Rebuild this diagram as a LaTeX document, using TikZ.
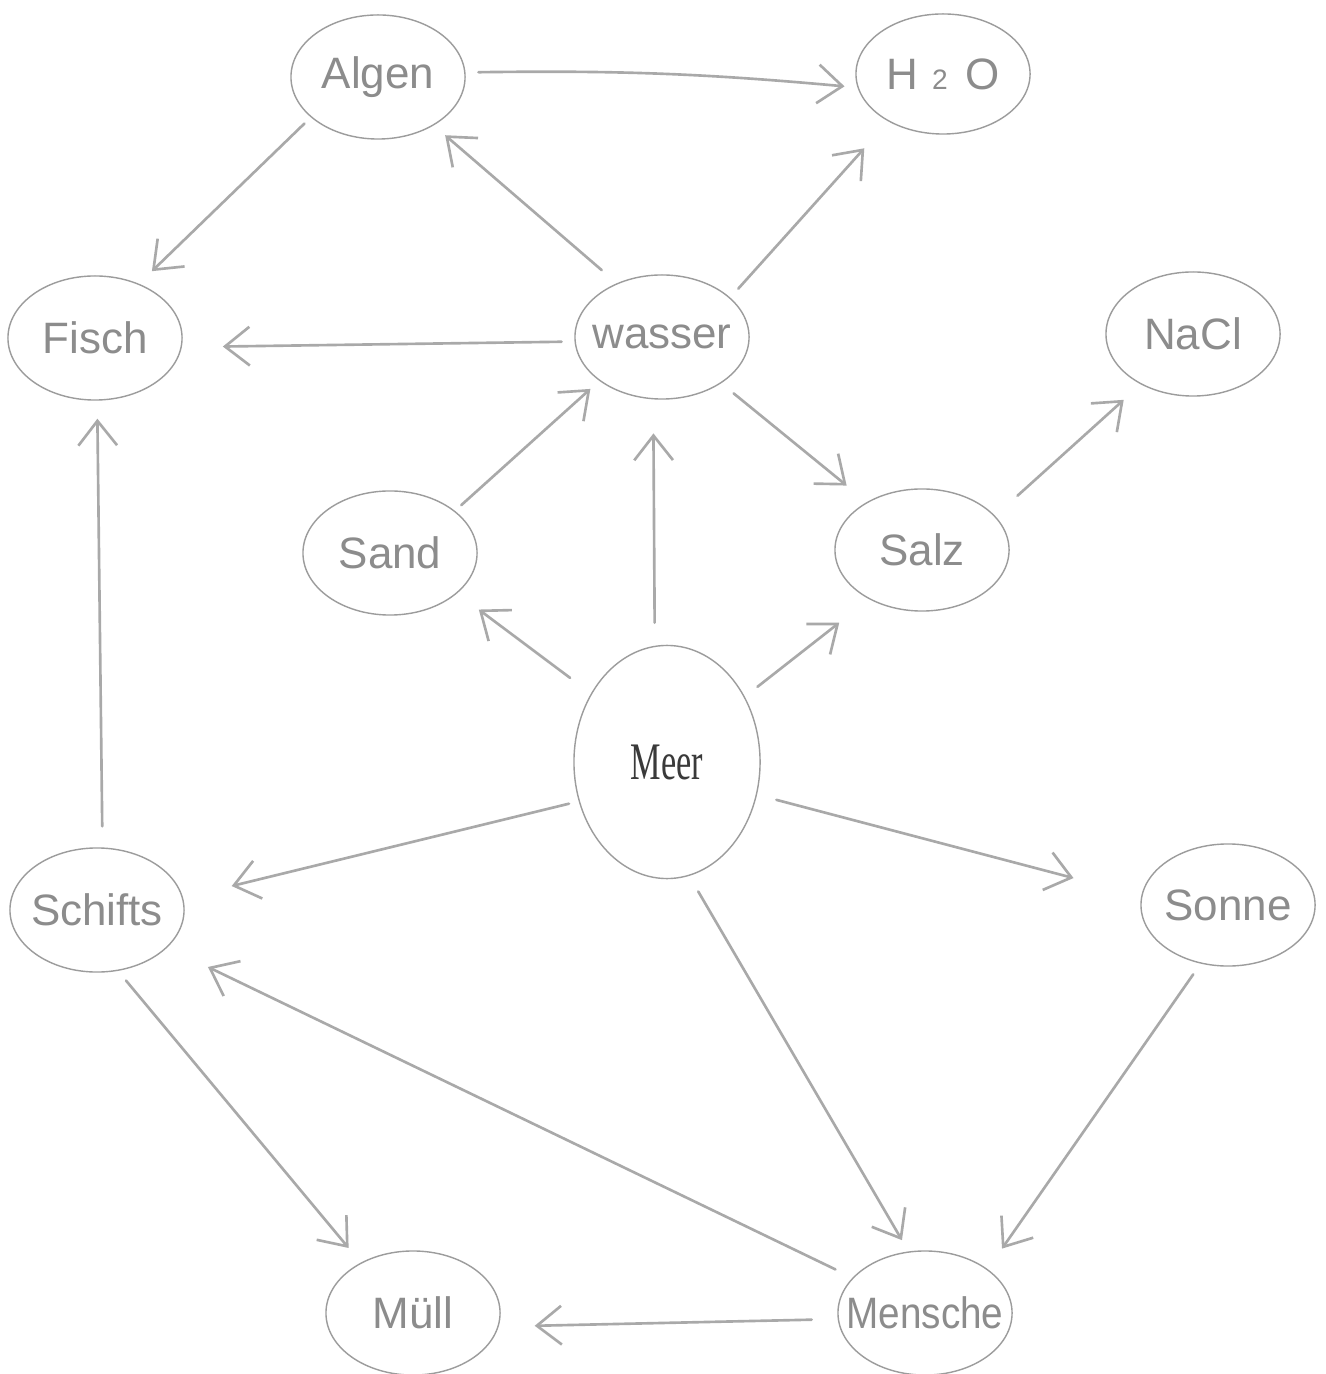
\documentclass[tikz,border=0pt]{standalone}
\usepackage{fontspec}
\setmainfont{Liberation Sans}
\newfontfamily\printfont{Liberation Serif}
\usetikzlibrary{shapes.geometric,arrows.meta}
\definecolor{pencil}{HTML}{8C8C8C}
\definecolor{rim}{HTML}{9C9C9C}
\definecolor{stroke}{HTML}{A9A9A9}
\definecolor{ink}{HTML}{3A3A3A}
% a word that does not widen its ellipse
\newcommand\word[1]{\makebox[0pt]{#1}}

\begin{document}
\begin{tikzpicture}[x=0.01cm,y=-0.01cm,
  bubble/.style={ellipse,draw=rim,line width=0.4pt,inner sep=0pt,
    minimum width=1.74cm,minimum height=1.24cm,text=pencil,
    font=\fontsize{12.5}{14}\selectfont},
  link/.style={draw=stroke,line width=0.75pt,line cap=round,line join=round,
    -{Straight Barb[length=7pt,width=11pt]}},
  gap/.style 2 args={shorten <=#1mm,shorten >=#2mm}]

  % page
  \useasboundingbox[fill=white] (0,0) rectangle (1325,1374);

  % concepts
  \node[bubble] (algen)   at (378,77)   {\word{Algen}};
  \node[bubble,minimum height=1.2cm] (hzo) at (943,74)
    {\word{H\kern4pt{\fontsize{8}{8}\selectfont 2}\kern5pt O}};
  \node[bubble] (fisch)   at (95,338)   {\word{Fisch}};
  \node[bubble] (wasser)  at (662,337)  {\word{wasser}};
  \node[bubble] (nacl)    at (1193,334) {\word{NaCl}};
  \node[bubble] (sand)    at (390,553)  {\word{Sand}};
  \node[bubble,minimum height=1.22cm] (salz) at (922,550) {\word{Salz}};
  \node[bubble,minimum width=1.86cm,minimum height=2.33cm,text=ink,
    font=\printfont\fontsize{15}{17}\selectfont] (meer) at (667,762)
    {\word{\scalebox{0.65}[1]{Meer}}};
  \node[bubble] (schifts) at (97,910)   {\word{Schifts}};
  \node[bubble,minimum height=1.22cm] (sonne) at (1228,905) {\word{Sonne}};
  \node[bubble] (muell)   at (413,1313) {\word{Müll}};
  \node[bubble] (mensche) at (925,1313) {\word{\scalebox{0.88}[1]{Mensche}}};

  % relations
  \draw[link,gap={1.3}{1.3},bend left=3] (algen.3) to (hzo.189);
  \draw[link,gap={0.9}{1.8}] (algen.211) -- (fisch.51);
  \draw[link,gap={2.0}{1.5}] (wasser.130) -- (algen.-41);
  \draw[link,gap={1.2}{3.6}] (wasser.30) -- (hzo.221);
  \draw[link,gap={1.3}{4.1}] (wasser.183) -- (fisch.-6);
  \draw[link,gap={0.85}{1.2}] (sand.33) -- (wasser.215);
  \draw[link,gap={1.6}{2.6}] (wasser.-38) -- (salz.139);
  \draw[link,gap={3.0}{2.3}] (salz.25) -- (nacl.224);
  \draw[link,gap={2.3}{3.4}] (meer.96) -- (wasser.262);
  \draw[link,gap={2.6}{2.7}] (meer.138) -- (sand.-31);
  \draw[link,gap={1.6}{3.8}] (meer.40) -- (salz.223);
  \draw[link,gap={1.0}{5.0}] (meer.204) -- (schifts.8);
  \draw[link,gap={2.0}{7.0}] (meer.-20) -- (sonne.174);
  \draw[link,gap={1.8}{1.3}] (meer.-79) -- (mensche.105);
  \draw[link,gap={2.1}{1.8}] (schifts.85) -- (fisch.-88);
  \draw[link,gap={1.25}{1.9}] (schifts.-71) -- (muell.136);
  \draw[link,gap={1.9}{4.5}] (mensche.154) -- (schifts.-28);
  \draw[link,gap={1.3}{2.5}] (sonne.245) -- (mensche.35);
  \draw[link,gap={2.6}{3.6}] (mensche.184) -- (muell.-9);
\end{tikzpicture}
\end{document}
